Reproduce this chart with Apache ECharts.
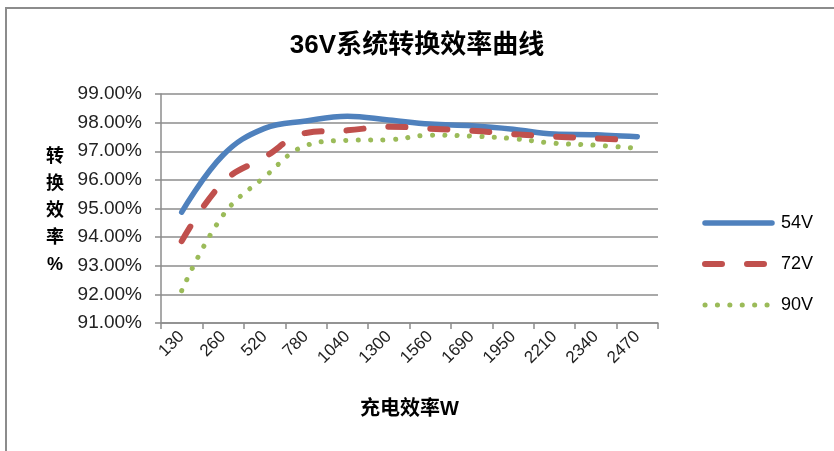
<!DOCTYPE html>
<html>
<head>
<meta charset="utf-8">
<script src="https://cdn.jsdelivr.net/npm/echarts@6/dist/echarts.min.js"></script>
<style>
  html, body { margin: 0; padding: 0; background: #fff; }
  #chart { width: 834px; height: 451px; }
</style>
</head>
<body>
<div id="chart"></div>
<script>
// Charging power steps (W)
const categories = ['130', '260', '520', '780', '1040', '1300', '1560', '1690', '1950', '2210', '2340', '2470'];

// Conversion efficiency (%) per input voltage
const eff54V = [94.87, 96.87, 97.80, 98.06, 98.22, 98.09, 97.95, 97.89, 97.77, 97.60, 97.58, 97.51];
const eff72V = [93.86, 95.92, 96.79, 97.64, 97.73, 97.86, 97.79, 97.72, 97.60, 97.51, 97.45, 97.38];
const eff90V = [92.13, 94.77, 96.10, 97.20, 97.38, 97.40, 97.56, 97.53, 97.44, 97.28, 97.21, 97.10];

// Value axis range (%)
const yMin = 91, yMax = 99, yStep = 1;

const seriesNames = ['54V', '72V', '90V'];
const colors = ['#4F81BD', '#C0504D', '#9BBB59'];
const yAxisTitle = '转\n换\n效\n率\n%';

const cjk = '"Liberation Sans", "Noto Sans CJK SC", sans-serif';
const latin = '"Liberation Sans", "Noto Sans", sans-serif';

const chart = echarts.init(document.getElementById('chart'), null, { renderer: 'canvas' });

chart.setOption({
  animation: false,
  backgroundColor: '#fff',
  title: {
    text: '36V系统转换效率曲线',
    left: 'center',
    top: 28,
    textStyle: { fontFamily: cjk, fontSize: 26, fontWeight: 'bold', color: '#000' }
  },
  graphic: [
    {
      // chart frame (left and top edges visible)
      type: 'rect',
      shape: { x: 6, y: 8, width: 900, height: 500 },
      style: { fill: 'none', stroke: '#8c8c8c', lineWidth: 2 },
      silent: true
    },
    {
      // stacked vertical title of the value axis
      type: 'text',
      x: 55,
      y: 211,
      style: {
        text: yAxisTitle,
        fontFamily: cjk,
        fontSize: 18,
        fontWeight: 'bold',
        fill: '#000',
        lineHeight: 27,
        align: 'center',
        verticalAlign: 'middle'
      },
      silent: true
    }
  ],
  legend: {
    orient: 'vertical',
    left: 697,
    top: 209,
    itemWidth: 67,
    itemHeight: 18,
    itemGap: 23,
    // legend shows only the line stroke, with each series' own width and dash
    itemStyle: { opacity: 0, borderWidth: 0 },
    lineStyle: { width: 'inherit', type: 'inherit', cap: 'inherit' },
    textStyle: { fontFamily: latin, fontSize: 18, color: '#000', padding: [0, 0, 0, 4] },
    data: seriesNames
  },
  grid: { left: 161, right: 176, top: 94, bottom: 128, containLabel: false },
  xAxis: {
    type: 'category',
    data: categories,
    boundaryGap: true,
    name: '充电效率W',
    nameLocation: 'middle',
    nameGap: 76,
    nameTextStyle: { fontFamily: cjk, fontSize: 20, fontWeight: 'bold', color: '#000' },
    axisLine: { lineStyle: { color: '#8c8c8c', width: 1.5 } },
    axisTick: { show: true, alignWithLabel: false, length: 6, lineStyle: { color: '#8c8c8c', width: 1.5 } },
    axisLabel: { rotate: 45, margin: 11, fontFamily: latin, fontSize: 17, color: '#222', interval: 0 },
    splitLine: { show: false }
  },
  yAxis: {
    type: 'value',
    min: yMin,
    max: yMax,
    interval: yStep,
    axisLine: { show: true, lineStyle: { color: '#8c8c8c', width: 1.5 } },
    axisTick: { show: true, length: 6, lineStyle: { color: '#8c8c8c', width: 1.5 } },
    axisLabel: {
      margin: 19,
      fontFamily: latin,
      fontSize: 19,
      color: '#222',
      formatter: v => v.toFixed(2) + '%'
    },
    splitLine: { show: true, lineStyle: { color: '#8c8c8c', width: 1.5 } }
  },
  series: [
    {
      name: seriesNames[0],
      type: 'line',
      data: eff54V,
      smooth: 0.4,
      showSymbol: false,
      symbol: 'none',
      color: colors[0],
      lineStyle: { color: colors[0], width: 5.5, cap: 'round', join: 'round' }
    },
    {
      name: seriesNames[1],
      type: 'line',
      data: eff72V,
      smooth: 0.4,
      showSymbol: false,
      symbol: 'none',
      color: colors[1],
      lineStyle: { color: colors[1], width: 6, type: [17, 25], cap: 'round', join: 'round' }
    },
    {
      name: seriesNames[2],
      type: 'line',
      data: eff90V,
      smooth: 0.4,
      showSymbol: false,
      symbol: 'none',
      color: colors[2],
      lineStyle: { color: colors[2], width: 5, type: [0.1, 12.3], cap: 'round', join: 'round' }
    }
  ]
});
</script>
</body>
</html>
